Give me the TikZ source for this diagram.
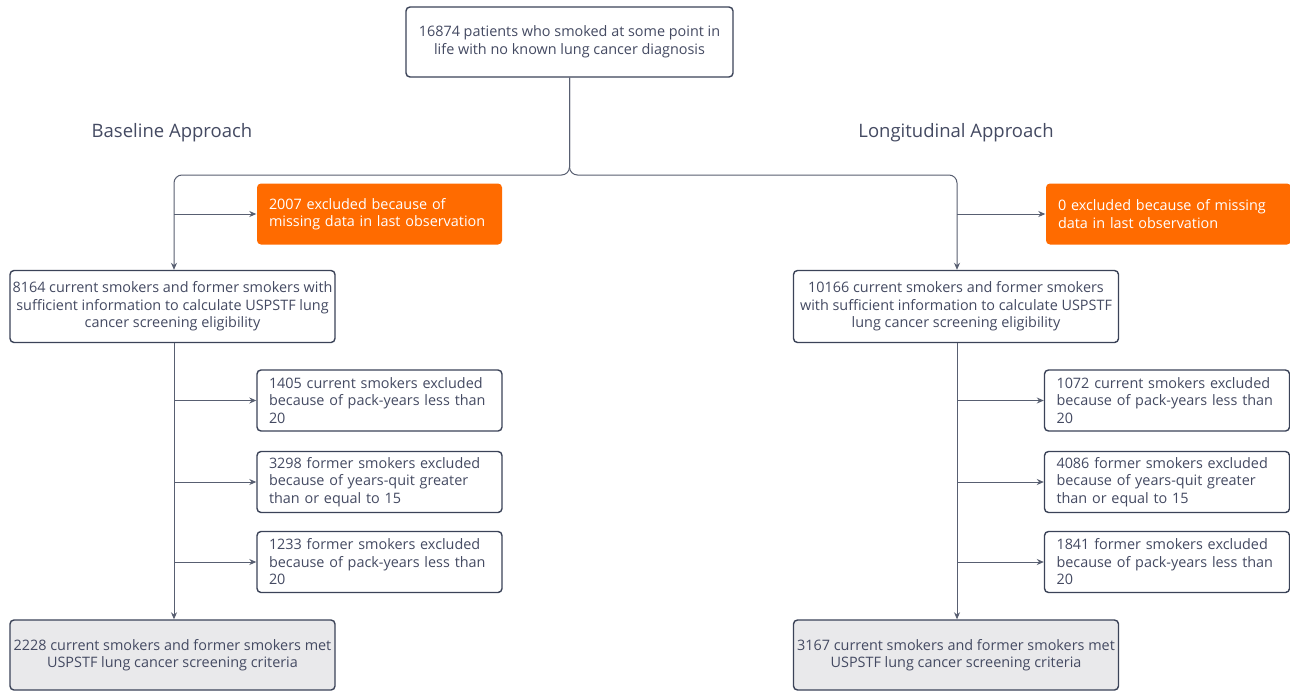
\documentclass[tikz,border=0pt]{standalone}
\usepackage{fontspec}
\setmainfont{Open Sans}
\usetikzlibrary{arrows.meta,positioning}

\definecolor{inkline}{HTML}{3B4358}
\definecolor{inktext}{HTML}{444A62}
\definecolor{exclorange}{HTML}{FF6B00}
\definecolor{metgray}{HTML}{E9E9EB}

\tikzset{
    box/.style={draw=inkline, line width=1.4pt, rounded corners=4pt, text=inktext,
        font=\fontsize{14.4}{17.5}\selectfont, align=center, inner sep=0pt},
    mainbox/.style={box, minimum width=325pt, minimum height=72pt},
    exclbox/.style={box, minimum width=245pt, minimum height=61pt, text width=221pt, align=left},
    orangebox/.style={exclbox, draw=none, fill=exclorange, text=white},
    metbox/.style={mainbox, fill=metgray},
    heading/.style={text=inktext, font=\fontsize{18.5}{22}\selectfont},
    flow/.style={draw=inkline!85, line width=1pt},
    arrow/.style={flow, -{Stealth[length=7pt,width=6pt]}}
}

\begin{document}
\begin{tikzpicture}[x=1pt, y=-1pt]
    \useasboundingbox[fill=white] (0,0) rectangle (1290,691);

    %Start
    \node[mainbox, minimum width=327pt, minimum height=70pt] (start) at (569.5,42)
        {16874 patients who smoked at some point in\\life with no known lung cancer diagnosis};

    %Ueberschriften
    \node[heading] (baseh) at (172,133) {Baseline Approach};
    \node[heading] (longh) at (956,133) {Longitudinal Approach};

    %Baseline
    \node[orangebox] (bmiss) at (379.5,214) {2007 excluded because of\\missing data in last observation};
    \node[mainbox] (bsuff) at (172.5,306.5) {8164 current smokers and former smokers with\\sufficient information to calculate USPSTF lung\\cancer screening eligibility};
    \node[exclbox] (bcur) at (379.5,400.5) {1405 current smokers excluded\\because of pack-years less than\\20};
    \node[exclbox] (bquit) at (379.5,482) {3298 former smokers excluded\\because of years-quit greater\\than or equal to 15};
    \node[exclbox] (bpack) at (379.5,562) {1233 former smokers excluded\\because of pack-years less than\\20};
    \node[metbox, minimum height=70pt] (bmet) at (172.5,655) {2228 current smokers and former smokers met\\USPSTF lung cancer screening criteria};

    %Longitudinal
    \node[orangebox] (lmiss) at (1168.5,214) {0 excluded because of missing\\data in last observation};
    \node[mainbox] (lsuff) at (956,306.5) {10166 current smokers and former smokers\\with sufficient information to calculate USPSTF\\lung cancer screening eligibility};
    \node[exclbox] (lcur) at (1167,400.5) {1072 current smokers excluded\\because of pack-years less than\\20};
    \node[exclbox] (lquit) at (1167,482) {4086 former smokers excluded\\because of years-quit greater\\than or equal to 15};
    \node[exclbox] (lpack) at (1167,562) {1841 former smokers excluded\\because of pack-years less than\\20};
    \node[metbox, minimum height=70pt] (lmet) at (956,655) {3167 current smokers and former smokers met\\USPSTF lung cancer screening criteria};

    %Verzweigung
    \coordinate (fork) at (569.5,175);
    \draw[arrow, rounded corners=8pt] (start.south) -- (fork) -| (bsuff.north -| 174,0);
    \draw[arrow, rounded corners=8pt] (start.south) -- (fork) -| (lsuff.north -| 957,0);

    %Pfeile Baseline
    \draw[arrow] (174,214) -- (bmiss.west);
    \draw[arrow] (bsuff.south -| 174,0) -- (bmet.north -| 174,0);
    \foreach \n in {bcur,bquit,bpack}
        \draw[arrow] (\n.west -| 174,0) -- (\n.west);

    %Pfeile Longitudinal
    \draw[arrow] (957,214) -- (lmiss.west);
    \draw[arrow] (lsuff.south -| 957,0) -- (lmet.north -| 957,0);
    \foreach \n in {lcur,lquit,lpack}
        \draw[arrow] (\n.west -| 957,0) -- (\n.west);
\end{tikzpicture}
\end{document}
